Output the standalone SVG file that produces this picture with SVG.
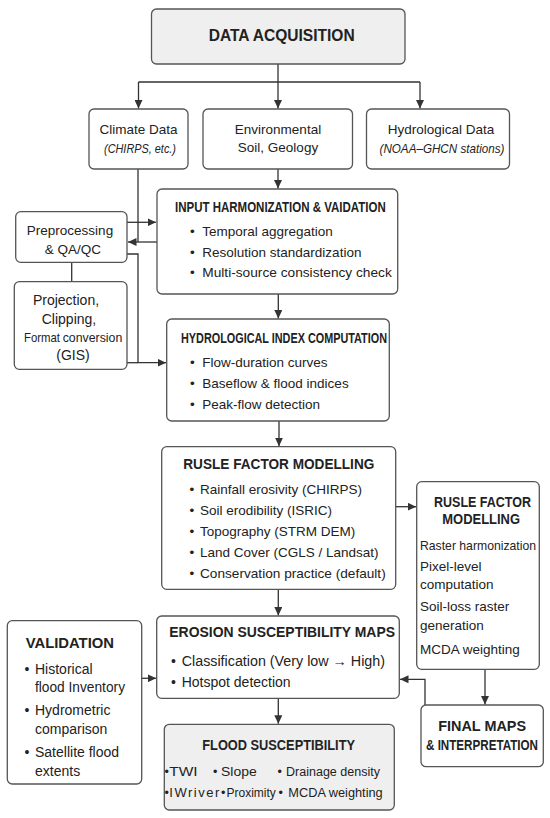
<svg xmlns="http://www.w3.org/2000/svg" width="550" height="818" viewBox="0 0 550 818">
<style>
text{font-family:"Liberation Sans",Arial,sans-serif;fill:#222;}
.box{fill:#fff;stroke:#555;stroke-width:1.3;}
.gray{fill:#efefef;}
.t{font-weight:bold;font-size:14px;}
.b{font-size:13.5px;}
.c{text-anchor:middle;}
.it{font-style:italic;}
.conn path{fill:none;stroke:#333;stroke-width:1.3;}
</style>
<defs>
<marker id="ah" markerUnits="userSpaceOnUse" markerWidth="9" markerHeight="8" refX="8.5" refY="4" orient="auto">
<path d="M0,0 L8.5,4 L0,8 z" fill="#333"/>
</marker>
</defs>
<rect width="550" height="818" fill="#fff"/>

<g class="conn">
<path d="M278,64 V82 M138.5,82 H420"/>
<path d="M138.5,82 V108.5" marker-end="url(#ah)"/>
<path d="M278,82 V108.5" marker-end="url(#ah)"/>
<path d="M420,82 V108.5" marker-end="url(#ah)"/>
<path d="M138,169 V242"/>
<path d="M157,242 H128" marker-end="url(#ah)"/>
<path d="M127,222.3 H156" marker-end="url(#ah)"/>
<path d="M278,169 V188.5" marker-end="url(#ah)"/>
<path d="M71.7,262.3 V281.7"/>
<path d="M127,254 H138 V362.7 H166" marker-end="url(#ah)"/>
<path d="M127,362.7 H138"/>
<path d="M278.3,294 V318.5" marker-end="url(#ah)"/>
<path d="M279,421 V446.2" marker-end="url(#ah)"/>
<path d="M395.7,506.7 H416.2" marker-end="url(#ah)"/>
<path d="M485,669.3 V704.5" marker-end="url(#ah)"/>
<path d="M425,705 V679.3 H400" marker-end="url(#ah)"/>
<path d="M278.3,589.3 V615.5" marker-end="url(#ah)"/>
<path d="M278.3,698.3 V723.8" marker-end="url(#ah)"/>
<path d="M141.7,678.3 H156.2" marker-end="url(#ah)"/>
</g>

<g id="data-acquisition">
<rect class="box gray" x="151.5" y="9" width="253.5" height="55" rx="5"/>
<text x="208.7" y="41" font-size="16" font-weight="bold" textLength="146" lengthAdjust="spacingAndGlyphs">DATA ACQUISITION</text>
</g>

<g id="climate-data">
<rect class="box" x="89" y="109" width="99" height="60" rx="5"/>
<text class="b c" x="138.5" y="134">Climate Data</text>
<text class="b c it" x="140" y="153" textLength="72" lengthAdjust="spacingAndGlyphs">(CHIRPS, etc.)</text>
</g>

<g id="environmental">
<rect class="box" x="203" y="109" width="149.5" height="60" rx="5"/>
<text class="b c" x="278" y="134">Environmental</text>
<text class="b c" x="278" y="152">Soil, Geology</text>
</g>

<g id="hydrological-data">
<rect class="box" x="366.5" y="109" width="143" height="60" rx="5"/>
<text class="b c" x="441" y="134">Hydrological Data</text>
<text class="b c it" x="442" y="153" textLength="125" lengthAdjust="spacingAndGlyphs">(NOAA–GHCN stations)</text>
</g>

<g id="preprocessing">
<rect class="box" x="15.7" y="211.7" width="111.3" height="50.6" rx="5"/>
<text class="b c" x="70" y="235">Preprocessing</text>
<text class="b c" x="73" y="253.5">&amp; QA/QC</text>
</g>

<g id="projection">
<rect class="box" x="14.3" y="281.7" width="112.7" height="87.6" rx="5"/>
<text class="c" font-size="14" x="66" y="305">Projection,</text>
<text class="c" font-size="14" x="69" y="324">Clipping,</text>
<text x="24" y="341.7"><tspan font-size="13.5" textLength="36" lengthAdjust="spacingAndGlyphs">Format</tspan><tspan font-size="12" x="62.7" textLength="59.6" lengthAdjust="spacingAndGlyphs">conversion</tspan></text>
<text class="c" font-size="14" x="73" y="360">(GIS)</text>
</g>

<g id="input-harmonization">
<rect class="box" x="157" y="189" width="240.7" height="105" rx="5"/>
<text class="t" font-size="13" x="175" y="212" textLength="210.7" lengthAdjust="spacingAndGlyphs">INPUT HARMONIZATION &amp; VAIDATION</text>
<text class="b" x="190" y="236">•</text><text class="b" x="202.3" y="236">Temporal aggregation</text>
<text class="b" x="190" y="256.5">•</text><text class="b" x="202.3" y="256.5">Resolution standardization</text>
<text class="b" x="190" y="277">•</text><text class="b" x="202.3" y="277" textLength="189.5" lengthAdjust="spacingAndGlyphs">Multi-source consistency check</text>
</g>

<g id="hydrological-index">
<rect class="box" x="166.7" y="319" width="222.6" height="102" rx="5"/>
<text class="t" font-size="13" x="181" y="343" textLength="206" lengthAdjust="spacingAndGlyphs">HYDROLOGICAL INDEX COMPUTATION</text>
<text class="b" x="190" y="367.3">•</text><text class="b" x="202.3" y="367.3">Flow-duration curves</text>
<text class="b" x="190" y="388">•</text><text class="b" x="202.3" y="388">Baseflow &amp; flood indices</text>
<text class="b" x="190" y="409">•</text><text class="b" x="202.3" y="409">Peak-flow detection</text>
</g>

<g id="rusle-factor-modelling">
<rect class="box" x="161.7" y="446.7" width="234" height="142.6" rx="5"/>
<text class="t" x="183.3" y="468.5" textLength="191" lengthAdjust="spacingAndGlyphs">RUSLE FACTOR MODELLING</text>
<text class="b" x="189.5" y="494">•</text><text class="b" x="200" y="494">Rainfall erosivity (CHIRPS)</text>
<text class="b" x="189.5" y="514.5">•</text><text class="b" x="200" y="514.5">Soil erodibility (ISRIC)</text>
<text class="b" x="189.5" y="535.5">•</text><text class="b" x="200" y="535.5">Topography (STRM DEM)</text>
<text class="b" x="189.5" y="557">•</text><text class="b" x="200" y="557">Land Cover (CGLS / Landsat)</text>
<text class="b" x="189.5" y="578">•</text><text class="b" x="200" y="578" textLength="185.7" lengthAdjust="spacingAndGlyphs">Conservation practice (default)</text>
</g>

<g id="rusle-factor-modelling-2">
<rect class="box" x="416.7" y="481.7" width="122.6" height="187.6" rx="5"/>
<text class="t" x="434" y="506.7" textLength="97" lengthAdjust="spacingAndGlyphs">RUSLE FACTOR</text>
<text class="t" x="442.3" y="523.5" textLength="77.7" lengthAdjust="spacingAndGlyphs">MODELLING</text>
<text class="b" x="420" y="549.5" textLength="116" lengthAdjust="spacingAndGlyphs">Raster harmonization</text>
<text class="b" x="420" y="571">Pixel-level</text>
<text class="b" x="420" y="588.5">computation</text>
<text class="b" x="420" y="611">Soil-loss raster</text>
<text class="b" x="420" y="629.5">generation</text>
<text class="b" x="420" y="653.5">MCDA weighting</text>
</g>

<g id="final-maps">
<rect class="box" x="421" y="705" width="122.3" height="61.7" rx="5"/>
<text class="t" x="438.3" y="731" textLength="87.7" lengthAdjust="spacingAndGlyphs">FINAL MAPS</text>
<text class="t" x="426" y="750" textLength="112" lengthAdjust="spacingAndGlyphs">&amp; INTERPRETATION</text>
</g>

<g id="erosion-susceptibility">
<rect class="box" x="156.7" y="616" width="242.6" height="82.3" rx="5"/>
<text class="t" x="169.3" y="637.3" textLength="225.7" lengthAdjust="spacingAndGlyphs">EROSION SUSCEPTIBILITY MAPS</text>
<text font-size="14" x="171" y="665.5">•</text><text font-size="14" x="181.7" y="665.5" textLength="203.3" lengthAdjust="spacingAndGlyphs">Classification (Very low → High)</text>
<text font-size="14" x="171" y="686.5">•</text><text font-size="14" x="181.7" y="686.5">Hotspot detection</text>
</g>

<g id="flood-susceptibility">
<rect class="box gray" x="164.3" y="724.3" width="230" height="85.7" rx="5"/>
<text class="t" x="202.3" y="750" textLength="152.7" lengthAdjust="spacingAndGlyphs">FLOOD SUSCEPTIBILITY</text>
<text font-size="12.5" x="164.5" y="775.5">•</text><text font-size="12.5" x="169.3" y="775.5" textLength="28.4" lengthAdjust="spacingAndGlyphs">TWI</text>
<text font-size="12.5" x="213" y="775.5">•</text><text font-size="12.5" x="221" y="775.5" textLength="35.7" lengthAdjust="spacingAndGlyphs">Slope</text>
<text font-size="12.5" x="277.5" y="775.5">•</text><text font-size="12.5" x="286" y="775.5" textLength="94" lengthAdjust="spacingAndGlyphs">Drainage density</text>
<text font-size="12.5" x="164.5" y="797">•</text><text font-size="13" x="169.3" y="797" textLength="50" lengthAdjust="spacing">IWriver</text>
<text font-size="12.5" x="221" y="797">•</text><text font-size="12" x="226.5" y="797">Proximity</text>
<text font-size="12.5" x="278.5" y="797">•</text><text font-size="12.5" x="288.3" y="797" textLength="94.4" lengthAdjust="spacingAndGlyphs">MCDA weighting</text>
</g>

<g id="validation">
<rect class="box" x="7.3" y="620.7" width="134.4" height="163.3" rx="5"/>
<text class="t" font-size="15" x="25.7" y="648" textLength="88.3" lengthAdjust="spacingAndGlyphs">VALIDATION</text>
<text font-size="14" x="24.5" y="673.5">•</text><text font-size="14" x="35" y="673.5">Historical</text>
<text font-size="14" x="35" y="692" textLength="90" lengthAdjust="spacingAndGlyphs">flood Inventory</text>
<text font-size="14" x="24.5" y="714.5">•</text><text font-size="14" x="35" y="714.5">Hydrometric</text>
<text font-size="14" x="35" y="734">comparison</text>
<text font-size="14" x="24.5" y="757">•</text><text font-size="14" x="35" y="757">Satellite flood</text>
<text font-size="14" x="35" y="775.5">extents</text>
</g>
</svg>
